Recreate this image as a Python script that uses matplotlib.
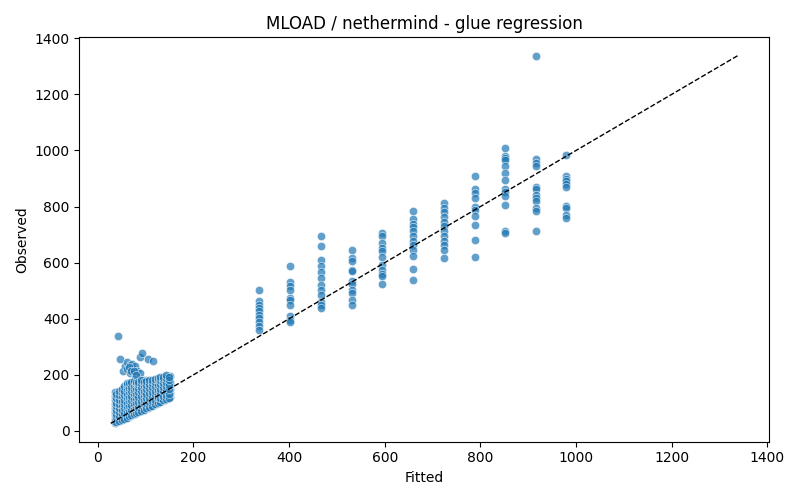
import numpy as np
import matplotlib.pyplot as plt
import seaborn as sns


# low-load runs: fitted value of each small group, then the observed times around it
low_fitted = [36, 42, 47, 52, 57, 62, 67, 72, 77, 82, 88, 93, 98,
              104, 110, 116, 122, 128, 134, 140, 146, 150]
low_observed = [
    [27, 30, 42, 55, 68, 80, 95, 110, 125, 138],
    [35, 48, 60, 75, 90, 105, 120, 135, 338],
    [38, 50, 65, 78, 92, 108, 122, 140, 257],
    [42, 55, 70, 85, 100, 115, 130, 145, 212],
    [45, 58, 72, 88, 104, 120, 136, 150, 230],
    [50, 63, 78, 94, 110, 126, 142, 155, 245, 220],
    [54, 68, 82, 98, 114, 130, 146, 160, 235, 205],
    [58, 72, 86, 102, 118, 134, 150, 165, 240, 225],
    [62, 76, 90, 106, 122, 138, 154, 168, 230, 198],
    [66, 80, 95, 110, 126, 142, 158, 172, 215],
    [70, 84, 100, 116, 132, 148, 164, 178, 263, 208],
    [75, 88, 104, 120, 136, 152, 168, 180, 277],
    [78, 92, 108, 124, 140, 156, 170, 182],
    [83, 96, 112, 128, 144, 160, 172, 256],
    [88, 100, 114, 130, 146, 162, 175],
    [92, 104, 118, 134, 150, 166, 178, 250],
    [97, 108, 122, 138, 154, 170, 182],
    [102, 114, 128, 142, 158, 174, 186],
    [107, 120, 134, 148, 162, 178, 188],
    [112, 125, 138, 152, 166, 180, 192],
    [117, 130, 142, 156, 170, 184, 196],
    [120, 134, 148, 162, 176, 196],
]

# extra low-load runs that fall between the groups above
low_fitted_b = [39, 45, 50, 55, 60, 65, 70, 75, 80, 85, 91, 96,
                101, 107, 113, 119, 125, 131, 137, 143, 148]
low_observed_b = [
    [33, 49, 62, 74, 88, 101, 117, 131],
    [37, 53, 67, 83, 97, 112, 128, 141],
    [40, 59, 76, 93, 107, 124, 137, 150],
    [44, 63, 80, 95, 111, 128, 143, 160],
    [47, 66, 84, 101, 118, 133, 149, 163, 172],
    [52, 71, 90, 105, 122, 138, 152, 170, 228],
    [56, 74, 93, 109, 126, 143, 158, 175, 215],
    [60, 79, 96, 113, 130, 146, 161, 177, 212],
    [64, 83, 99, 117, 133, 149, 166, 174, 200],
    [68, 87, 103, 120, 137, 153, 169, 176],
    [72, 91, 107, 124, 141, 157, 172, 181],
    [76, 95, 111, 128, 144, 161, 175],
    [80, 98, 116, 132, 148, 165, 178],
    [85, 102, 119, 136, 152, 168, 180],
    [90, 106, 123, 140, 156, 171, 183],
    [95, 111, 127, 143, 160, 176, 186],
    [99, 116, 131, 147, 164, 180, 189],
    [104, 119, 136, 151, 168, 183, 191],
    [109, 124, 141, 157, 172, 186, 194],
    [114, 128, 145, 160, 175, 190, 198],
    [118, 133, 150, 165, 181, 193],
]

# high-load runs sit on discrete fitted levels
high_fitted = [337, 402, 466, 531, 595, 660, 724, 788, 852, 916, 980]
high_observed = [
    [501, 462, 450, 438, 426, 414, 403, 390, 373, 361],
    [589, 530, 515, 504, 474, 468, 450, 411, 396, 388],
    [696, 659, 611, 587, 565, 545, 521, 504, 483, 460, 450, 438],
    [646, 617, 607, 575, 569, 533, 525, 504, 492, 468, 450],
    [706, 694, 670, 652, 640, 619, 593, 575, 561, 551, 525],
    [786, 756, 739, 727, 712, 696, 676, 664, 644, 623, 577, 539],
    [811, 795, 780, 763, 744, 730, 712, 694, 676, 664, 644, 617],
    [908, 863, 849, 829, 799, 789, 768, 736, 682, 619],
    [1010, 980, 974, 965, 946, 918, 894, 861, 851, 837, 807, 712, 707],
    [1338, 968, 956, 946, 870, 863, 843, 831, 819, 795, 783, 712],
    [983, 908, 900, 890, 879, 870, 801, 795, 771, 760],
]


def flatten(levels, groups):
    xs, ys = [], []
    for lvl, obs in zip(levels, groups):
        xs.extend([lvl] * len(obs))
        ys.extend(obs)
    return np.array(xs, dtype=float), np.array(ys, dtype=float)


def main():
    lx, ly = flatten(low_fitted, low_observed)
    bx, by = flatten(low_fitted_b, low_observed_b)
    hx, hy = flatten(high_fitted, high_observed)
    fitted = np.concatenate([lx, bx, hx])
    observed = np.concatenate([ly, by, hy])

    fig, ax = plt.subplots(figsize=(8, 5), dpi=100)
    sns.scatterplot(x=fitted, y=observed, alpha=0.7, ax=ax)

    # identity line across the whole data range
    lo = min(fitted.min(), observed.min())
    hi = max(fitted.max(), observed.max())
    ax.plot([lo, hi], [lo, hi], 'k--', linewidth=1)

    ax.set_xlabel("Fitted")
    ax.set_ylabel("Observed")
    ax.set_title("MLOAD / nethermind - glue regression")

    fig.tight_layout()
    fig.savefig("out.png")


if __name__ == '__main__':
    main()
